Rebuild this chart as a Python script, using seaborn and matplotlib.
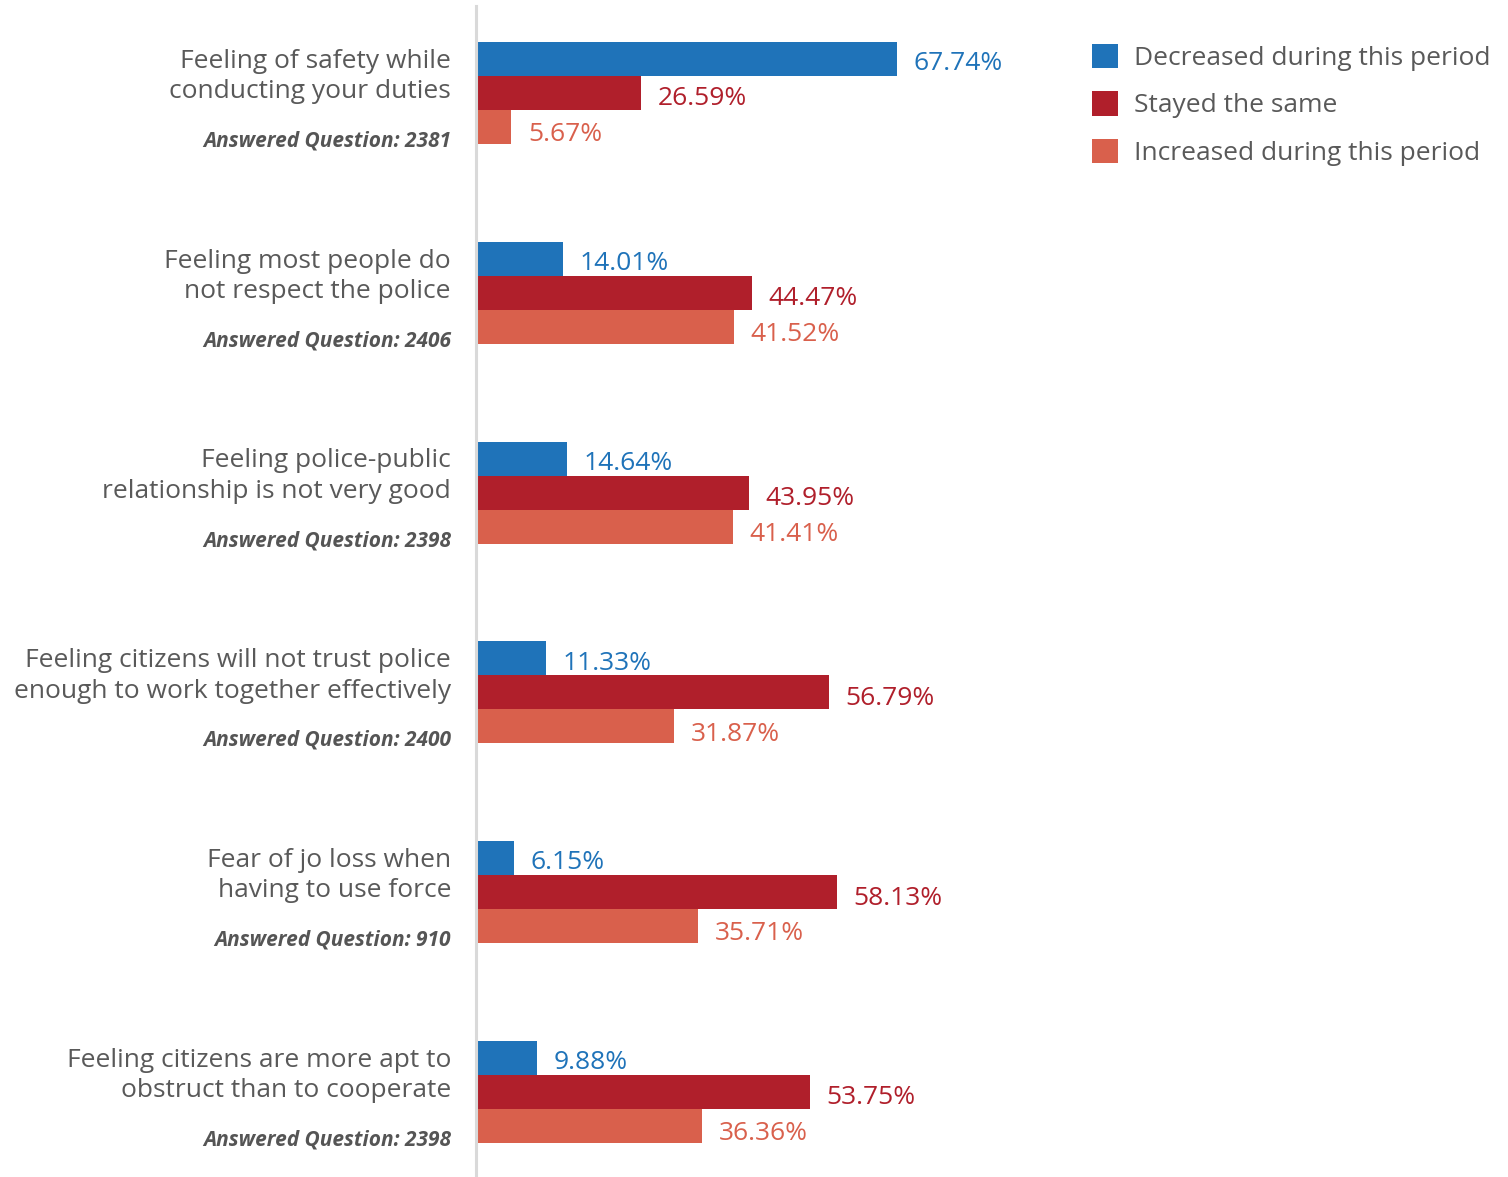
import matplotlib
matplotlib.use("Agg")
import matplotlib.pyplot as plt
import seaborn as sns
import pandas as pd

# ---- data ----
categories = [
    "Feeling of safety while\nconducting your duties",
    "Feeling most people do\nnot respect the police",
    "Feeling police-public\nrelationship is not very good",
    "Feeling citizens will not trust police\nenough to work together effectively",
    "Fear of jo loss when\nhaving to use force",
    "Feeling citizens are more apt to\nobstruct than to cooperate",
]
answered = [2381, 2406, 2398, 2400, 910, 2398]
series_names = ["Decreased during this period", "Stayed the same", "Increased during this period"]
decreased = [67.74, 14.01, 14.64, 11.33, 6.15, 9.88]
stayed = [26.59, 44.47, 43.95, 56.79, 58.13, 53.75]
increased = [5.67, 41.52, 41.41, 31.87, 35.71, 36.36]
colors = ["#1f73b9", "#b01f2b", "#d9604c"]

rows = []
for i, c in enumerate(categories):
    for name, vals in zip(series_names, [decreased, stayed, increased]):
        rows.append({"category": c, "series": name, "value": vals[i]})
df = pd.DataFrame(rows)

sns.set_theme(style="white")
plt.rcParams["font.family"] = ["Open Sans", "DejaVu Sans"]

W, H = 1508, 1177
fig = plt.figure(figsize=(W / 100, H / 100), dpi=100)
ax_left, ax_right, ax_top = 476, 1060, 6
ax = fig.add_axes([ax_left / W, 0, (ax_right - ax_left) / W, (H - ax_top) / H])

sns.barplot(data=df, y="category", x="value", hue="series", order=categories,
            hue_order=series_names, palette=colors, orient="h", width=0.51,
            saturation=1, ax=ax, linewidth=0)

px_per_unit = 6.21
ax.set_xlim(0, (ax_right - ax_left) / px_per_unit)
ax.set_ylim(5.425, -0.435)

ax.set_xlabel("")
ax.set_ylabel("")
ax.set_xticks([])
ax.set_yticks([])
for s in ["top", "right", "bottom"]:
    ax.spines[s].set_visible(False)
ax.spines["left"].set_color("#d9d9d9")
ax.spines["left"].set_linewidth(2.2)

# value labels
label_dy = [-3.4, -4.2, -5.6]
for container, col, dy in zip(ax.containers, colors, label_dy):
    for bar in container:
        w = bar.get_width()
        yc = bar.get_y() + bar.get_height() / 2
        ax.annotate(f"{w:.2f}%", xy=(w, yc), xytext=(12, dy), textcoords="offset points",
                    ha="left", va="center", fontsize=19, color=col)

# category labels
ytr = ax.get_yaxis_transform()
txt_col = "#595959"
for i, (c, n) in enumerate(zip(categories, answered)):
    lines = c.split("\n")
    ax.annotate(lines[0], xy=(0, i), xycoords=ytr, xytext=(-18, 22.8), textcoords="offset points",
                ha="right", va="center", fontsize=19, color=txt_col, annotation_clip=False)
    ax.annotate(lines[1], xy=(0, i), xycoords=ytr, xytext=(-18, 1.0), textcoords="offset points",
                ha="right", va="center", fontsize=19, color=txt_col, annotation_clip=False)
    ax.annotate(f"Answered Question: {n}", xy=(0, i), xycoords=ytr, xytext=(-18, -34.5),
                textcoords="offset points", ha="right", va="center", fontsize=15,
                fontweight="bold", fontstyle="italic", color="#555555", annotation_clip=False)

# legend
sns.move_legend(ax, loc="upper left", bbox_to_anchor=(1081 / W, 1 - 33 / H),
                bbox_transform=fig.transFigure, frameon=False, title=None,
                fontsize=19, handlelength=1.0, handleheight=1.05, handletextpad=0.6,
                labelspacing=0.77, borderaxespad=0)
for t in ax.get_legend().get_texts():
    t.set_color(txt_col)

fig.savefig("out.png", dpi=100)
